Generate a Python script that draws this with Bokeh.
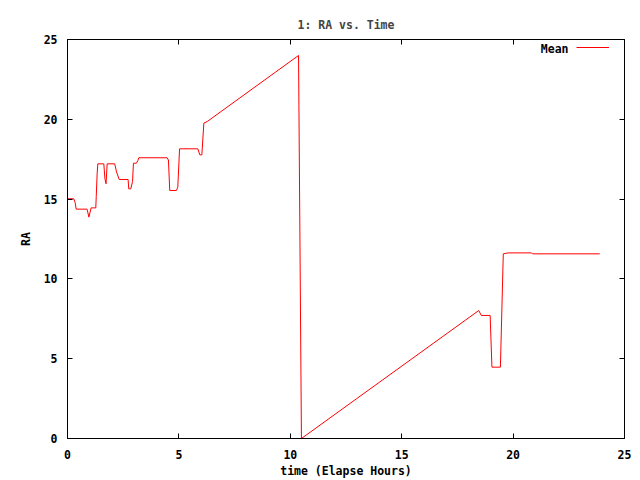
from bokeh.plotting import figure
from bokeh.models import Range1d, FixedTicker, LinearAxis, Label, Legend, LegendItem
from bokeh.embed import file_html
from bokeh.resources import INLINE

# ---- data ----
time_h = [0.00, 0.28, 0.34, 0.39, 0.88, 0.96, 1.06, 1.27, 1.29, 1.33, 1.36,
          1.63, 1.68, 1.73, 1.78, 2.12, 2.20, 2.32, 2.72, 2.75, 2.84, 2.92,
          2.96, 3.09, 3.16, 3.20, 4.47, 4.53, 4.59, 4.89, 4.95, 5.03, 5.85,
          5.94, 6.03, 6.12, 6.27, 10.37, 10.50, 18.46, 18.57, 18.97, 19.05,
          19.43, 19.56, 19.78, 20.83, 20.87, 23.89]
ra = [15.02, 15.02, 14.80, 14.37, 14.37, 13.87, 14.45, 14.45, 15.16, 16.58, 17.21,
      17.21, 16.27, 15.96, 17.21, 17.21, 16.70, 16.23, 16.23, 15.64, 15.64, 16.10,
      17.25, 17.25, 17.42, 17.59, 17.59, 17.45, 15.54, 15.54, 15.75, 18.15, 18.15,
      17.77, 17.77, 19.76, 19.86, 24.00, 0.00, 8.02, 7.71, 7.71, 4.47,
      4.47, 11.57, 11.63, 11.63, 11.57, 11.57]
x_ticks = [0, 5, 10, 15, 20, 25]
y_ticks = [0, 5, 10, 15, 20, 25]
title_text = "1: RA vs. Time"
x_label = "time (Elapse Hours)"
y_label = "RA"
series_name = "Mean"

FONT = "DejaVu Sans Mono"
FS = "11.5px"

p = figure(width=640, height=480, output_backend="svg", toolbar_location=None,
           x_range=Range1d(0, 25), y_range=Range1d(0, 25),
           min_border_left=67, min_border_right=16, min_border_top=39,
           min_border_bottom=42, title=title_text)
p.title.text_font = FONT
p.title.text_font_size = FS
p.title.text_font_style = "bold"
p.title.align = "center"
p.title.vertical_align = "top"
p.title.standoff = 12
p.grid.visible = False
p.outline_line_color = "black"
p.outline_line_width = 1
p.background_fill_color = "white"
p.border_fill_color = "white"


def style_axis(ax, ticks, labels=True):
    ax.ticker = FixedTicker(ticks=ticks)
    ax.major_tick_in = 5
    ax.major_tick_out = 0
    ax.minor_tick_line_color = None
    ax.axis_line_color = "black"
    ax.major_tick_line_color = "black"
    if labels:
        ax.major_label_text_font = FONT
        ax.major_label_text_font_size = FS
        ax.major_label_text_font_style = "bold"
        ax.major_label_text_color = "black"
        ax.axis_label_text_font = FONT
        ax.axis_label_text_font_size = FS
        ax.axis_label_text_font_style = "bold"
        ax.axis_label_text_color = "black"
    else:
        ax.major_label_text_color = None
        ax.major_label_text_font_size = "1px"
        ax.major_label_standoff = 0


xa = p.xaxis[0]
style_axis(xa, x_ticks)
xa.axis_label = x_label
xa.major_label_standoff = 11
xa.axis_label_standoff = 2

ya = p.yaxis[0]
style_axis(ya, y_ticks)
ya.axis_label = y_label
ya.major_label_standoff = 10
ya.axis_label_standoff = 8

top_ax = LinearAxis()
style_axis(top_ax, x_ticks, labels=False)
p.add_layout(top_ax, "above")
right_ax = LinearAxis()
style_axis(right_ax, y_ticks, labels=False)
p.add_layout(right_ax, "right")

r = p.line(time_h, ra, line_color="#ff0000", line_width=1)

lab = Label(x=501, y=390, x_units="screen", y_units="screen", text=series_name,
            text_align="right", text_baseline="middle", text_font=FONT,
            text_font_size=FS, text_font_style="bold", text_color="black")
p.add_layout(lab)

leg = Legend(items=[LegendItem(label=" ", renderers=[r])], location=(509, 386),
             glyph_width=33, glyph_height=10, label_height=10, label_width=0,
             padding=0, margin=0, spacing=0, label_standoff=0,
             label_text_font_size="1px", border_line_color=None,
             background_fill_alpha=0)
p.add_layout(leg, "center")

open("out.html", "w").write(file_html(p, INLINE))
